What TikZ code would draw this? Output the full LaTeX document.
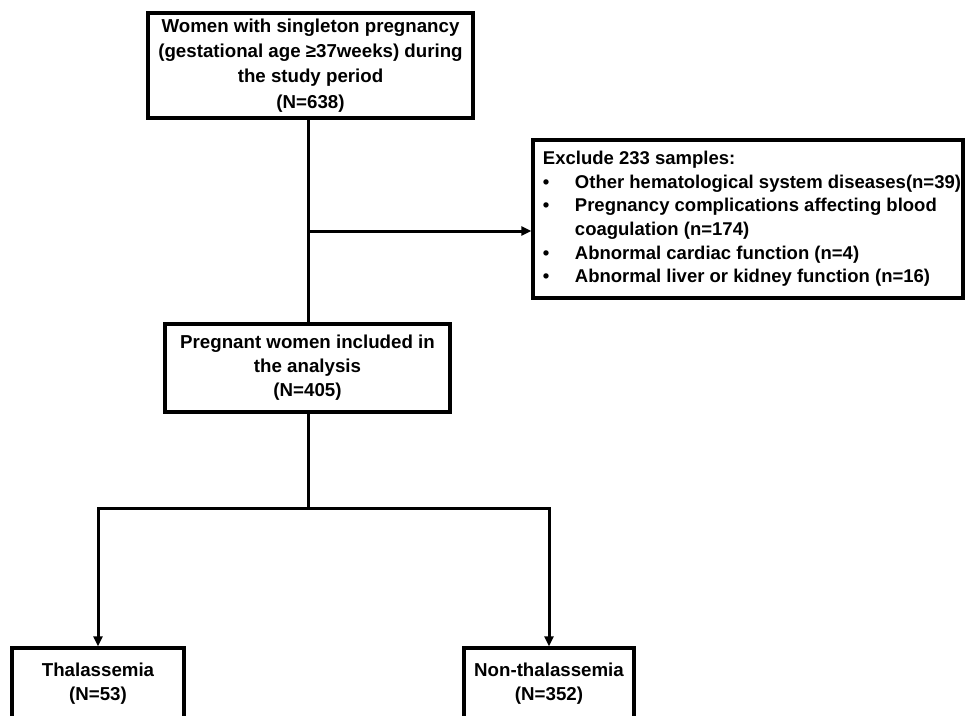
\documentclass[tikz,border=0pt]{standalone}
\usepackage{fontspec}
\setmainfont{Liberation Sans}
\usetikzlibrary{arrows.meta}
\newcommand{\exline}[1]{\hspace*{8pt}#1}
\tikzset{
  box/.style={draw, line width=3.2pt, rectangle, align=center, inner sep=0pt,
    font=\fontsize{18.7}{24}\selectfont\bfseries},
  conn/.style={line width=3pt},
  arr/.style={line width=3pt, -{Triangle[length=10pt,width=9pt]}}
}
\begin{document}
\begin{tikzpicture}[x=1pt,y=-1pt]
\useasboundingbox (0,0) rectangle (965,715);
\clip (0,0) rectangle (965,715);
\node[box, minimum width=325pt, minimum height=105pt,
  font=\fontsize{18.7}{25.3}\selectfont\bfseries] (top) at (310.5,65.5)
  {Women with singleton pregnancy\\(gestational age ≥37weeks) during\\the study period\\(N=638)};
\node[box, minimum width=430pt, minimum height=158pt, align=left,
  font=\fontsize{18.5}{23.6}\selectfont\bfseries] (excl) at (748,219)
  {\exline{Exclude 233 samples:}\\
   \exline{\makebox[32pt][l]{•}Other hematological system diseases(n=39)}\\
   \exline{\makebox[32pt][l]{•}Pregnancy complications affecting blood}\\
   \exline{\hspace*{32pt}coagulation (n=174)}\\
   \exline{\makebox[32pt][l]{•}Abnormal cardiac function (n=4)}\\
   \exline{\makebox[32pt][l]{•}Abnormal liver or kidney function (n=16)}};
\node[box, minimum width=285pt, minimum height=88pt] (mid) at (307.5,368)
  {Pregnant women included in\\the analysis\\(N=405)};
\node[box, minimum width=172pt, minimum height=72pt] (thal) at (98,684)
  {Thalassemia\\(N=53)};
\node[box, minimum width=170pt, minimum height=72pt] (non) at (549,684)
  {Non-thalassemia\\(N=352)};
\coordinate (j1) at (308,231);
\coordinate (j2) at (308,508);
\draw[conn] (top.south -| j1) -- (mid.north -| j1);
\draw[arr] (j1) -- (j1 -| excl.west);
\draw[conn] (mid.south -| j2) -- (j2);
\draw[arr] (j2) -| (thal.north);
\draw[arr] (j2) -| (non.north);
\end{tikzpicture}
\end{document}
